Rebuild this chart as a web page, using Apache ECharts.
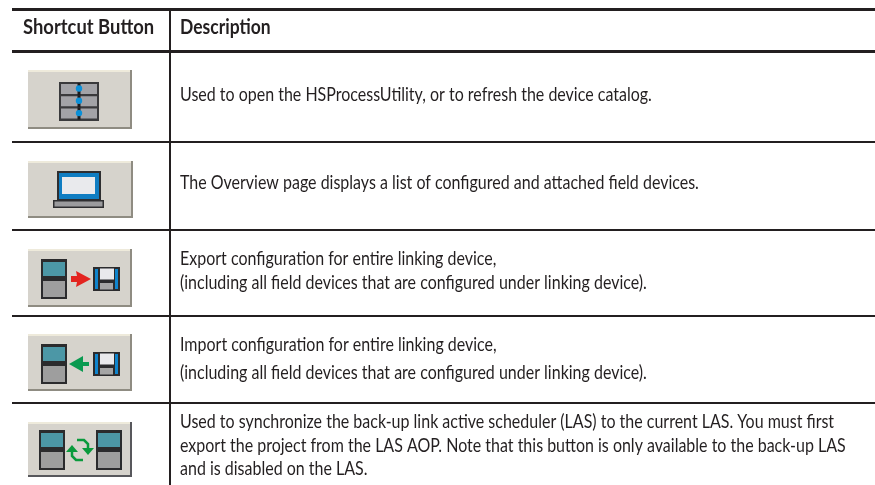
<!DOCTYPE html>
<html>
<head>
<meta charset="utf-8">
<script src="https://cdn.jsdelivr.net/npm/echarts@6/dist/echarts.min.js"></script>
<style>
  html, body { margin: 0; padding: 0; background: #fff; }
  #main { width: 875px; height: 485px; }
</style>
</head>
<body>
<div id="main"></div>
<script>
const headers = ['Shortcut Button', 'Description']
const row1Lines = ['Used to open the HSProcessUtility, or to refresh the device catalog.']
const row2Lines = ['The Overview page displays a list of configured and attached field devices.']
const row3Lines = ['Export configuration for entire linking device,', '(including all field devices that are configured under linking device).']
const row4Lines = ['Import configuration for entire linking device,', '(including all field devices that are configured under linking device).']
const row5Lines = [
  'Used to synchronize the back-up link active scheduler (LAS) to the current LAS. You must first',
  'export the project from the LAS AOP. Note that this button is only available to the back-up LAS',
  'and is disabled on the LAS.'
]
const rows = [row1Lines, row2Lines, row3Lines, row4Lines, row5Lines]

const INK = '#231f20'
const FONT = 'Lato, "Open Sans", sans-serif'
const textTop = [95, 183, 259, 344.5, 422]
const lineGaps = [0, 0, 23.5, 28, 23.5]

const g = []

function rect(x, y, w, h, fill) {
  g.push({ type: 'rect', shape: { x: x, y: y, width: w, height: h }, style: { fill: fill } })
}
function poly(points, fill) {
  g.push({ type: 'polygon', shape: { points: points }, style: { fill: fill } })
}

function button(x, y, w, h, shade) {
  rect(x, y, w, h, '#d6d3cc')
  rect(x, y, w, 2, '#eeeadb')
  rect(x + w - 2, y, 2, h, shade)
  rect(x, y + h - 2, w, 2, shade)
}

function drawers(x, y) {
  rect(x, y, 40, 39, '#3a3a3c')
  for (let i = 0; i < 3; i++) {
    const top = y + 2 + i * 12.3
    rect(x + 2, top, 36, 10, '#a3a3a7')
    rect(x + 18.5, top - 1, 3, 12, '#1c1c1e')
    g.push({ type: 'circle', shape: { cx: x + 20, cy: top + 4.5, r: 3.2 }, style: { fill: '#0a90d8' } })
  }
}

function laptop(x, y) {
  rect(x + 4, y, 44, 30, '#2e2e30')
  rect(x + 6, y + 2, 40, 26, '#0f7dc2')
  rect(x + 9, y + 6, 33, 17, '#e9eaed')
  rect(x, y + 29, 51, 8, '#2e2e30')
  rect(x + 1.5, y + 30.5, 48, 5, '#9b9b9d')
}

function device(x, y) {
  rect(x, y, 26, 40, '#2b2b2d')
  rect(x + 2, y + 3, 22, 14, '#4c97a6')
  rect(x + 2, y + 22, 22, 16, '#9e9e9e')
}

function floppy(x, y) {
  rect(x, y, 27, 24, '#2b2b2d')
  rect(x + 2, y + 2, 3, 20, '#0f84cc')
  rect(x + 22, y + 2, 3, 20, '#0f84cc')
  rect(x + 7, y + 1.5, 14, 11, '#e9e9ec')
  rect(x + 7, y + 16, 13, 6.5, '#a5a5a5')
}

function arrowRight(x, cy, fill) {
  poly([[x, cy - 3], [x + 6, cy - 3], [x + 5, cy - 8], [x + 20, cy], [x + 5, cy + 8], [x + 6, cy + 3], [x, cy + 3]], fill)
}
function arrowLeft(x, cy, fill) {
  poly([[x + 20, cy - 2], [x + 14, cy - 2], [x + 14, cy - 8], [x, cy], [x + 14, cy + 8], [x + 14, cy + 2], [x + 20, cy + 2]], fill)
}

function syncArrows(cx, cy, fill) {
  // upper arc, heading down on the right
  g.push({ type: 'polyline', shape: { points: [[cx - 3, cy - 10], [cx + 4, cy - 10], [cx + 8, cy - 6], [cx + 8, cy - 1]] }, style: { stroke: fill, lineWidth: 2.5, fill: 'none' } })
  poly([[cx + 2, cy - 2], [cx + 14, cy - 2], [cx + 8, cy + 5]], fill)
  // lower arc, heading up on the left
  g.push({ type: 'polyline', shape: { points: [[cx + 3, cy + 10], [cx - 4, cy + 10], [cx - 8, cy + 6], [cx - 8, cy + 1]] }, style: { stroke: fill, lineWidth: 2.5, fill: 'none' } })
  poly([[cx - 14, cy + 2], [cx - 2, cy + 2], [cx - 8, cy - 5]], fill)
}

// table rules
rect(12, 8, 863, 3, INK)
rect(12, 50, 863, 3, INK)
rect(12, 141, 863, 2, INK)
rect(12, 229, 863, 2, INK)
rect(12, 315, 863, 2, INK)
rect(12, 402, 863, 2, INK)
rect(169, 11, 2, 474, INK)

// buttons
button(28, 70, 104, 59, '#8f8c82')
drawers(59, 82)
button(28, 161, 105, 57, '#8f8c82')
laptop(53, 171)
button(28, 249, 104, 58, '#8f8c82')
device(41, 259)
arrowRight(71, 279, '#e3241f')
floppy(93, 267)
button(28, 334, 104, 57, '#8f8c82')
device(41, 344)
arrowLeft(69, 364, '#0a9a50')
floppy(93, 352)
button(28, 422, 104, 55, '#58585c')
device(39, 430)
syncArrows(80, 450, '#0a9a3c')
device(96, 430)

function label(text, x, y, font, sx) {
  g.push({ type: 'text', x: x, y: y, scaleX: sx, style: { text: text, font: font, fill: INK, textVerticalAlign: 'middle' } })
}

// header
label(headers[0], 23, 28, 'bold 20px ' + FONT, 0.92)
label(headers[1], 180, 28, 'bold 20px ' + FONT, 0.875)

// descriptions
rows.forEach(function (lines, r) {
  lines.forEach(function (line, i) {
    label(line, 180, textTop[r] + i * lineGaps[r], '19px ' + FONT, 0.842)
  })
})

const chart = echarts.init(document.getElementById('main'), null, { renderer: 'canvas' })
chart.setOption({
  backgroundColor: '#fff',
  animation: false,
  graphic: { elements: g }
})
</script>
</body>
</html>
